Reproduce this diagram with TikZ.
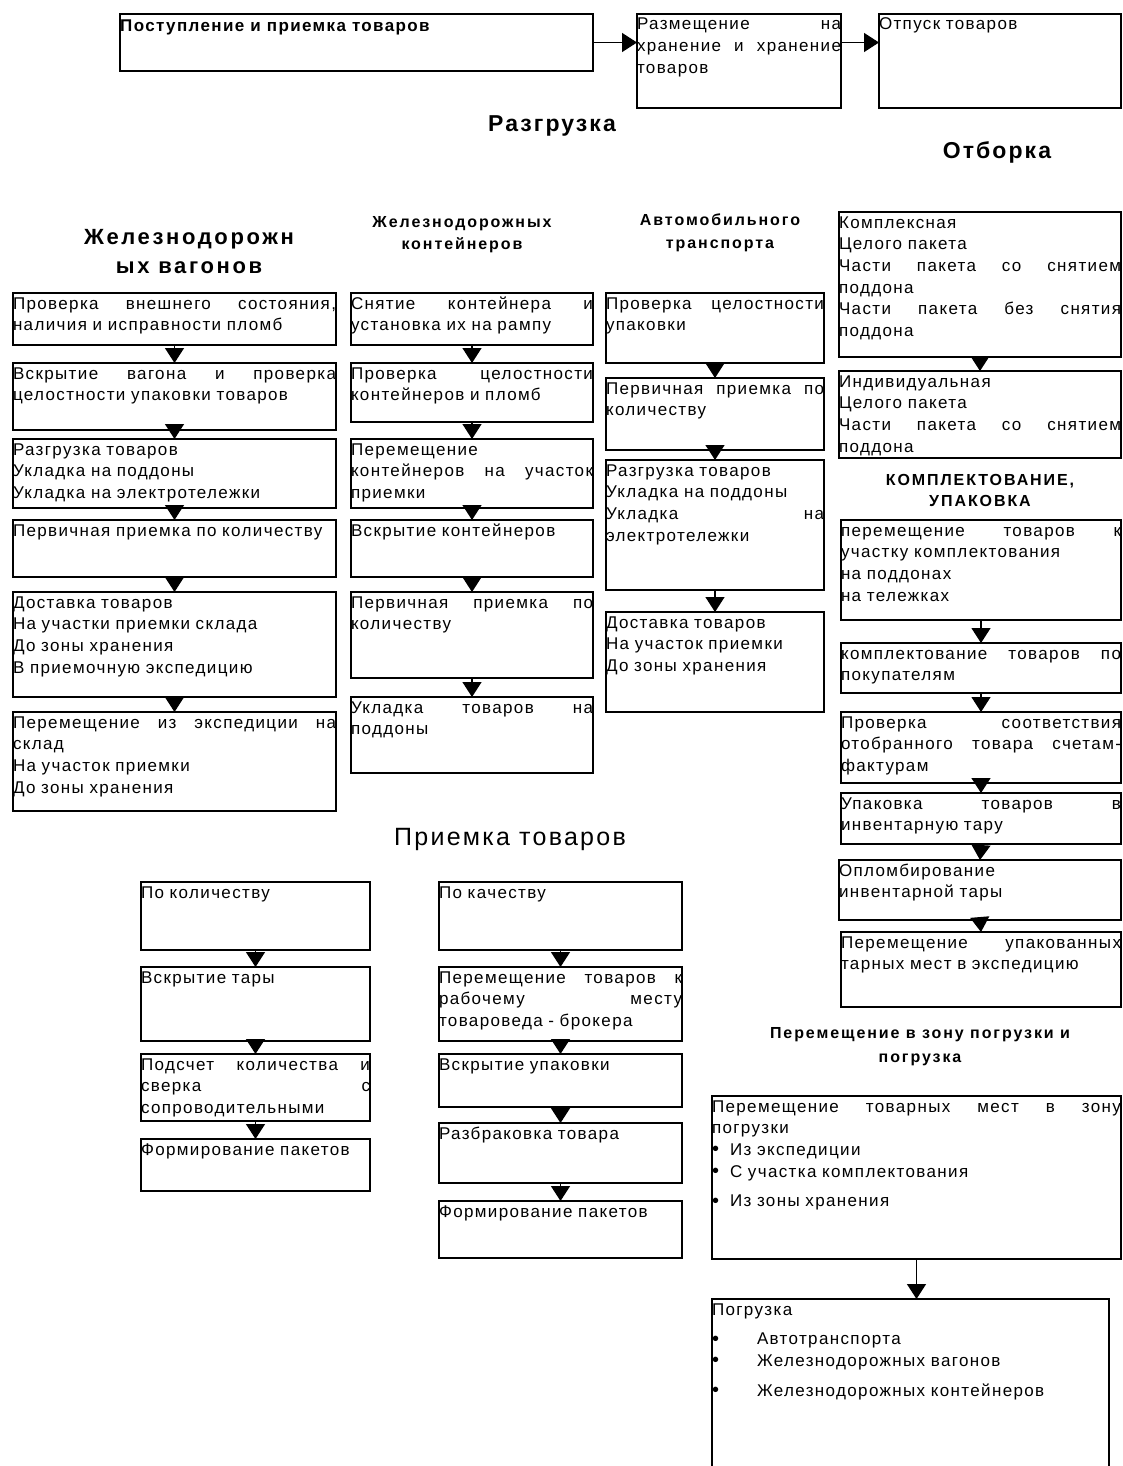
\documentclass[tikz,border=0pt]{standalone}
\usepackage{fontspec}
\setmainfont{Liberation Sans}
\newfontfamily\bxf{Liberation Sans}[LetterSpace=8]
\newfontfamily\ttlfont{Liberation Sans}[LetterSpace=12]
\newfontfamily\bigfont{Liberation Sans}[LetterSpace=9]
\usetikzlibrary{arrows.meta}
\newcommand\curw{10pt}
\newcommand\jl[1]{\leavevmode\hbox to \curw{#1}}
\newcommand\bul[2]{\leavevmode\makebox[#1][l]{\fontsize{20}{20}\selectfont\raisebox{-0.5pt}{•}}#2}
\tikzset{
  boxst/.style={draw, line width=1.4pt, rectangle, inner sep=0pt, outer sep=0pt},
  txt/.style={inner sep=0pt, outer sep=0pt, align=left, font=\bxf\fontsize{17}{21.7}\selectfont},
  arr/.style={line width=1.4pt, -{Triangle[width=19pt,length=15pt]}},
  ttl/.style={inner sep=0pt, outer sep=0pt, anchor=base},
  bigttl/.style={ttl, font=\bigfont\bfseries\fontsize{23}{27}\selectfont},
  boldttl/.style={ttl, font=\ttlfont\bfseries\fontsize{16}{20}\selectfont},
}
\newcommand\bx[6]{%
  \node[boxst, minimum width=#4pt, minimum height=#5pt, anchor=north west] (#1) at (#2,#3) {};
  \renewcommand\curw{#4pt}%
  \node[txt, text width=#4pt, anchor=base west] (#1t) at ([yshift=-16pt]#1.north west) {#6};}
\begin{document}
\begin{tikzpicture}[x=1pt,y=-1pt]
\useasboundingbox (0,0) rectangle (1122,1466);
\fill[white] (0,0) rectangle (1122,1466);

% top row
\node[boxst, minimum width=473pt, minimum height=57pt, anchor=north west] (A) at (120,14) {};
\node[inner sep=0pt, anchor=base west, font=\bxf\bfseries\fontsize{17}{20}\selectfont] (At) at ([yshift=-18pt]A.north west) {Поступление и приемка товаров};
\bx{B}{637}{14}{204}{94}{\jl{Размещение\hfill на}\\\jl{хранение\hfill и\hfill хранение}\\товаров}
\bx{C}{879}{14}{242}{94}{Отпуск товаров}
\draw[arr] (A.east) -- (A.east -| B.west);
\draw[arr] (A.east -| B.east) -- (A.east -| C.west);

% titles
\node[bigttl] (tRaz) at (552,132) {Разгрузка};
\node[bigttl] (tOtb) at (997,159) {Отборка};
\node[ttl, font=\bigfont\fontsize{25}{29}\selectfont] (tPri) at (510,845) {Приемка товаров};
\node[ttl, font=\ttlfont\bfseries\fontsize{22}{26}\selectfont] (tV1) at (189,244) {Железнодорожн};
\node[ttl, font=\ttlfont\bfseries\fontsize{22}{26}\selectfont] (tV2) at (189,273) {ых вагонов};
\node[boldttl] (tK1) at (462,227) {Железнодорожных};
\node[boldttl] (tK2) at (462,249) {контейнеров};
\node[boldttl] (tA1) at (720,225) {Автомобильного};
\node[boldttl] (tA2) at (720,248) {транспорта};
\node[boldttl] (tU1) at (980,485) {КОМПЛЕКТОВАНИЕ,};
\node[boldttl] (tU2) at (980,506) {УПАКОВКА};
\node[boldttl] (tP1) at (920,1038) {Перемещение в зону погрузки и};
\node[boldttl] (tP2) at (920,1062) {погрузка};

% column 1
\bx{b1}{13}{293}{323}{52}{\jl{Проверка\hfill внешнего\hfill состояния,}\\наличия и исправности пломб}
\bx{b2}{13}{363}{323}{67}{\jl{Вскрытие\hfill вагона\hfill и\hfill проверка}\\целостности упаковки товаров}
\bx{b3}{13}{439}{323}{69}{Разгрузка товаров\\Укладка на поддоны\\Укладка на электротележки}
\bx{b4}{13}{520}{323}{57}{Первичная приемка по количеству}
\bx{b5}{13}{592}{323}{105}{Доставка товаров\\На участки приемки склада\\До зоны хранения\\В приемочную экспедицию}
\bx{b6}{13}{712}{323}{99}{\jl{Перемещение\hfill из\hfill экспедиции\hfill на}\\склад\\На участок приемки\\До зоны хранения}
\foreach \p/\q in {b1/b2,b2/b3,b3/b4,b4/b5,b5/b6} \draw[arr] (\p.south) -- (\q.north);

% column 2
\bx{c1}{351}{293}{242}{52}{\jl{Снятие\hfill контейнера\hfill и}\\установка их на рампу}
\bx{c2}{351}{363}{242}{59}{\jl{Проверка\hfill целостности}\\контейнеров и пломб}
\bx{c3}{351}{439}{242}{69}{Перемещение\\\jl{контейнеров\hfill на\hfill участок}\\приемки}
\bx{c4}{351}{520}{242}{57}{Вскрытие контейнеров}
\bx{c5}{351}{592}{242}{86}{\jl{Первичная\hfill приемка\hfill по}\\количеству}
\bx{c6}{351}{697}{242}{76}{\jl{Укладка\hfill товаров\hfill на}\\поддоны}
\foreach \p/\q in {c1/c2,c2/c3,c3/c4,c4/c5,c5/c6} \draw[arr] (\p.south) -- (\q.north);

% column 3
\bx{d1}{606}{293}{218}{70}{\jl{Проверка\hfill целостности}\\упаковки}
\bx{d2}{606}{378}{218}{72}{\jl{Первичная\hfill приемка\hfill по}\\количеству}
\bx{d3}{606}{460}{218}{130}{Разгрузка товаров\\Укладка на поддоны\\\jl{Укладка\hfill на}\\электротележки}
\bx{d4}{606}{612}{218}{100}{Доставка товаров\\На участок приемки\\До зоны хранения}
\foreach \p/\q in {d1/d2,d2/d3,d3/d4} \draw[arr] (\p.south) -- (\q.north);

% column 4
\bx{e1}{839}{212}{282}{145}{Комплексная\\Целого пакета\\\jl{Части\hfill пакета\hfill со\hfill снятием}\\поддона\\\jl{Части\hfill пакета\hfill без\hfill снятия}\\поддона}
\bx{e2}{839}{371}{282}{87}{Индивидуальная\\Целого пакета\\\jl{Части\hfill пакета\hfill со\hfill снятием}\\поддона}
\draw[arr] (e1.south) -- (e2.north);
\bx{f1}{841}{520}{280}{100}{\jl{перемещение\hfill товаров\hfill к}\\участку комплектования\\на поддонах\\на тележках}
\bx{f2}{841}{643}{280}{50}{\jl{комплектование\hfill товаров\hfill по}\\покупателям}
\bx{f3}{841}{712}{280}{71}{\jl{Проверка\hfill соответствия}\\\jl{отобранного\hfill товара\hfill счетам-}\\фактурам}
\bx{f4}{841}{793}{280}{51}{\jl{Упаковка\hfill товаров\hfill в}\\инвентарную тару}
\bx{f5}{839}{860}{282}{60}{Опломбирование\\инвентарной тары}
\bx{f6}{841}{932}{280}{75}{\jl{Перемещение\hfill упакованных}\\тарных мест в экспедицию}
\foreach \p/\q in {f1/f2,f2/f3,f3/f4,f4/f5,f5/f6} \draw[arr] (\p.south) -- (\q.north);

\bx{g1}{712}{1096}{409}{163}{\jl{Перемещение\hfill товарных\hfill мест\hfill в\hfill зону}\\погрузки\\\bul{18pt}{Из экспедиции}\\\bul{18pt}{С участка комплектования}\\[8pt]\bul{18pt}{Из зоны хранения}}
\bx{g2}{712}{1299}{397}{175}{Погрузка\\[8pt]\bul{45pt}{Автотранспорта}\\\bul{45pt}{Железнодорожных вагонов}\\[8pt]\bul{45pt}{Железнодорожных контейнеров}}
\draw[arr] (g1.south) -- (g1.south |- g2.north);

% Приемка
\bx{h1}{141}{882}{229}{68}{По количеству}
\bx{h2}{141}{967}{229}{74}{Вскрытие тары}
\bx{h3}{141}{1054}{229}{67}{\jl{Подсчет\hfill количества\hfill и}\\\jl{сверка\hfill с}\\сопроводительными}
\bx{h4}{141}{1139}{229}{52}{Формирование пакетов}
\foreach \p/\q in {h1/h2,h2/h3,h3/h4} \draw[arr] (\p.south) -- (\q.north);

\bx{i1}{439}{882}{243}{68}{По качеству}
\bx{i2}{439}{967}{243}{74}{\jl{Перемещение\hfill товаров\hfill к}\\\jl{рабочему\hfill месту}\\товароведа - брокера}
\bx{i3}{439}{1054}{243}{53}{Вскрытие упаковки}
\bx{i4}{439}{1123}{243}{60}{Разбраковка товара}
\bx{i5}{439}{1201}{243}{57}{Формирование пакетов}
\foreach \p/\q in {i1/i2,i2/i3,i3/i4,i4/i5} \draw[arr] (\p.south) -- (\q.north);
\end{tikzpicture}
\end{document}
